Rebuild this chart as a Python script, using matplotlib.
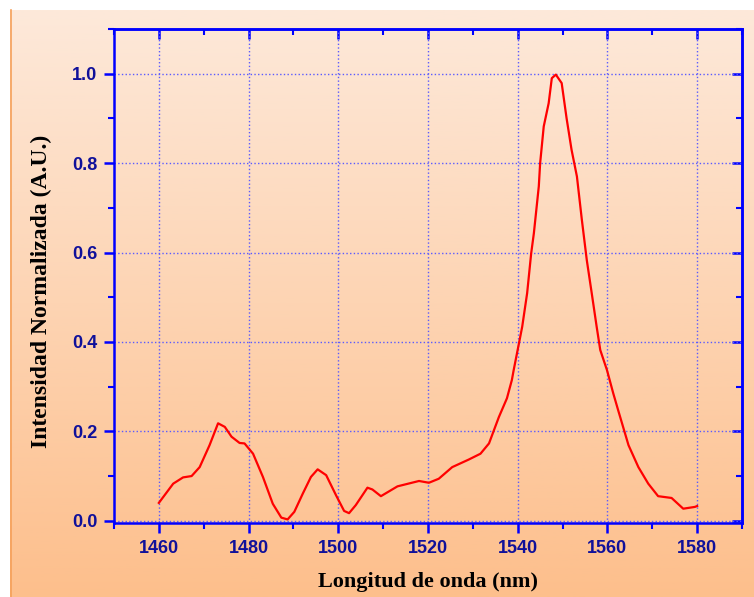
import numpy as np
import matplotlib
matplotlib.use("Agg")
import matplotlib.pyplot as plt
from matplotlib.colors import LinearSegmentedColormap
from matplotlib.ticker import MultipleLocator

# Espectro normalizado
wavelength = [1460, 1463.2, 1465.4, 1467.3, 1469.1, 1471.3, 1473.2, 1474.7, 1476.2, 1478.0,
              1479.1, 1481.0, 1483.2, 1485.4, 1487.3, 1488.7, 1490.2, 1492.1, 1493.9, 1495.4,
              1497.3, 1499.5, 1501.3, 1502.4, 1503.9, 1506.5, 1507.6, 1509.5, 1513.2, 1518.0,
              1520.2, 1522.4, 1525.4, 1529.1, 1531.7, 1533.6, 1535.8, 1537.6, 1538.7, 1539.1,
              1540.2, 1541.0, 1542.1, 1543.0, 1543.6, 1544.7, 1545.0, 1545.8, 1546.9, 1547.6,
              1548.5, 1549.8, 1550.9, 1552.0, 1553.2, 1554.3, 1555.4, 1556.5, 1557.6, 1558.4,
              1559.9, 1561.3, 1562.4, 1564.7, 1566.9, 1569.1, 1571.3, 1574.3, 1576.9, 1579.5,
              1580]
intensity = [0.040, 0.083, 0.097, 0.100, 0.120, 0.169, 0.218, 0.210, 0.188, 0.174,
             0.173, 0.150, 0.098, 0.038, 0.007, 0.003, 0.020, 0.061, 0.098, 0.115,
             0.102, 0.057, 0.022, 0.017, 0.035, 0.074, 0.070, 0.055, 0.077, 0.089,
             0.085, 0.094, 0.120, 0.137, 0.150, 0.173, 0.232, 0.274, 0.315, 0.337,
             0.393, 0.434, 0.509, 0.598, 0.643, 0.748, 0.800, 0.882, 0.934, 0.990,
             0.998, 0.979, 0.900, 0.830, 0.770, 0.673, 0.583, 0.509, 0.434, 0.382,
             0.337, 0.285, 0.247, 0.169, 0.120, 0.083, 0.055, 0.051, 0.027, 0.031,
             0.033]

xticks = [1460, 1480, 1500, 1520, 1540, 1560, 1580]
yticks = [0.0, 0.2, 0.4, 0.6, 0.8, 1.0]

blue = "#0000ff"
label_blue = "#10109a"

fig = plt.figure(figsize=(7.54, 5.97), dpi=100)

# fondo degradado (con margen blanco arriba e izquierda)
bg = fig.add_axes([10 / 754, 0, 1 - 10 / 754, 1 - 10 / 597], zorder=-10)
cmap = LinearSegmentedColormap.from_list("peach", ["#fde9da", "#fdbf8c"])
bg.imshow(np.linspace(0, 1, 256).reshape(-1, 1), aspect="auto", cmap=cmap,
          extent=[0, 1, 0, 1])
bg.set_axis_off()
fig.add_artist(plt.Line2D([10.5 / 754, 10.5 / 754], [0, 1 - 10 / 597],
                          color="#f5a05a", lw=1.2, transform=fig.transFigure))

ax = fig.add_axes([114 / 754, 74 / 597, 628 / 754, 494 / 597])
ax.set_facecolor("none")
ax.plot(wavelength, intensity, color="#ff0000", lw=1.6, zorder=3)

ax.set_xlim(1450, 1590)
ax.set_ylim(-0.005, 1.1)
ax.set_xticks(xticks)
ax.set_yticks(yticks)
ax.set_yticklabels([f"{v:.1f}" for v in yticks])
ax.xaxis.set_minor_locator(MultipleLocator(10))
ax.yaxis.set_minor_locator(MultipleLocator(0.1))

ax.grid(True, which="major", color="#5a5aff", linestyle=":", lw=1.0)
for sp in ax.spines.values():
    sp.set_color(blue)
    sp.set_linewidth(1.8)

ax.tick_params(which="both", direction="out", color=blue, labelcolor=label_blue,
               top=False, right=False)
ax.tick_params(which="major", length=7, width=1.8, pad=5)
ax.tick_params(which="minor", length=4, width=1.5)
for lbl in ax.get_xticklabels() + ax.get_yticklabels():
    lbl.set_fontfamily("Liberation Sans")
    lbl.set_fontweight("bold")
    lbl.set_fontsize(13)

# marcas hacia dentro en los ejes superior y derecho
top = ax.secondary_xaxis("top")
top.set_xticks(xticks)
top.xaxis.set_minor_locator(MultipleLocator(10))
right = ax.secondary_yaxis("right")
right.set_yticks(yticks)
right.yaxis.set_minor_locator(MultipleLocator(0.1))
for sec in (top, right):
    sec.tick_params(which="both", direction="in", color=blue,
                    labeltop=False, labelbottom=False, labelleft=False, labelright=False)
    sec.tick_params(which="major", length=7, width=1.8)
    sec.tick_params(which="minor", length=4, width=1.5)
    for sp in sec.spines.values():
        sp.set_color(blue)
        sp.set_linewidth(1.8)

ax.set_xlabel("Longitud de onda (nm)", family="Liberation Serif", fontweight="bold",
              fontsize=16, labelpad=11)
ax.set_ylabel("Intensidad Normalizada (A.U.)", family="Liberation Serif",
              fontweight="bold", fontsize=17)
ax.yaxis.set_label_coords(-0.099, 0.468)

fig.savefig("out.png", dpi=100)
